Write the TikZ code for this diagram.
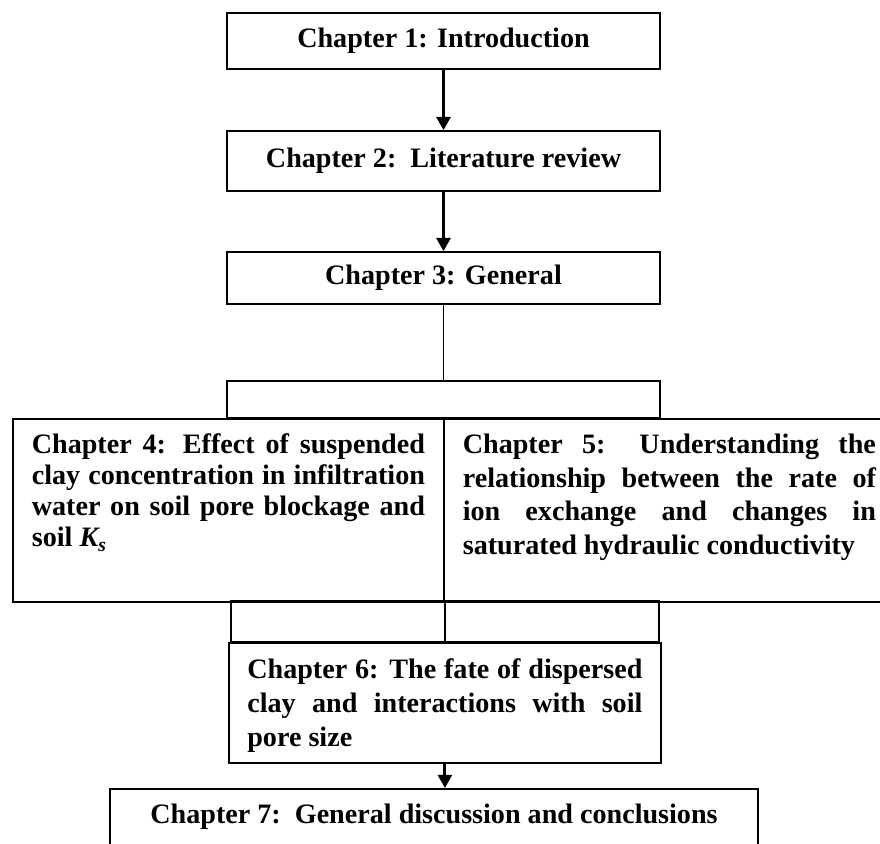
\documentclass[tikz,border=0pt]{standalone}
\usepackage{fontspec}
\setmainfont{Liberation Serif}
\usepackage{tikz}
\usetikzlibrary{arrows.meta}

% justified text block: width, line distance, text
\newcommand{\boxtext}[3]{\parbox[t]{#1}{\fontsize{20pt}{#2}\selectfont\bfseries #3}}

\begin{document}
\begin{tikzpicture}[x=0.025cm,y=-0.025cm,
    font=\fontsize{20pt}{24pt}\selectfont\bfseries,
    chapbox/.style={draw,line width=1.2pt,minimum width=10.825cm,inner sep=0pt},
    longbox/.style={draw,line width=1.2pt,anchor=north west,
      inner xsep=0.475cm,inner ysep=0.2cm,text height=0.675cm,text depth=3.5cm},
    flow/.style={line width=2pt,-{Triangle[length=0.33cm,width=0.35cm]}}]
  \useasboundingbox (0,0) rectangle (880,843);

  % Chapters 1 to 3, one under the other
  \node[chapbox,minimum height=1.4cm] (ch1) at (443.5,41) {Chapter 1: Introduction};
  \node[chapbox,minimum height=1.5cm] (ch2) at (443.5,161) {Chapter 2:\ \ Literature review};
  \node[chapbox,minimum height=1.3cm] (ch3) at (443.5,278) {Chapter 3: General};
  \draw[flow] (ch1.south) -- (ch2.north);
  \draw[flow] (ch2.south) -- (ch3.north);

  % Split into the two parallel chapters
  \node[chapbox,minimum height=0.925cm] (split) at (443.5,399.5) {};
  \draw[line width=1.2pt] (ch3.south) -- (split.north);

  % Chapter 4 (left)
  \node[longbox] (ch4) at (12,418)
    {\boxtext{9.825cm}{22pt}{Chapter 4: Effect of suspended\linebreak
     clay concentration in infiltration\linebreak
     water on soil pore blockage and\linebreak
     soil \textit{K\textsubscript{s}}}};

  % Chapter 5 (right, runs off the page)
  \node[longbox] (ch5) at (443,418)
    {\boxtext{10.325cm}{23.8pt}{Chapter 5: Understanding the\linebreak
     relationship between the rate of\linebreak
     ion exchange and changes in\linebreak
     saturated hydraulic conductivity}};

  % Join back into chapter 6
  \node[draw,line width=1.2pt,minimum width=10.7cm,minimum height=1.025cm,inner sep=0pt]
    (join) at (445,621.5) {};
  \node[longbox,inner xsep=0.4625cm,text height=0.7cm,text depth=1.9cm]
    (ch6) at (228,642)
    {\boxtext{9.875cm}{24pt}{Chapter 6: The fate of dispersed\linebreak
     clay and interactions with soil\linebreak
     pore size}};
  \draw[line width=1.2pt] (ch4.south east) -- (ch4.south east |- ch6.north);

  % Chapter 7 (bottom, cut off)
  \node[draw,line width=1.2pt,anchor=north,minimum width=16.2cm,inner ysep=0.2cm,
    text height=0.675cm,text depth=1cm] (ch7) at (434,788)
    {Chapter 7:\ \ General discussion and conclusions};
  \draw[flow] (ch6.south) -- (ch6.south |- ch7.north);
\end{tikzpicture}
\end{document}
